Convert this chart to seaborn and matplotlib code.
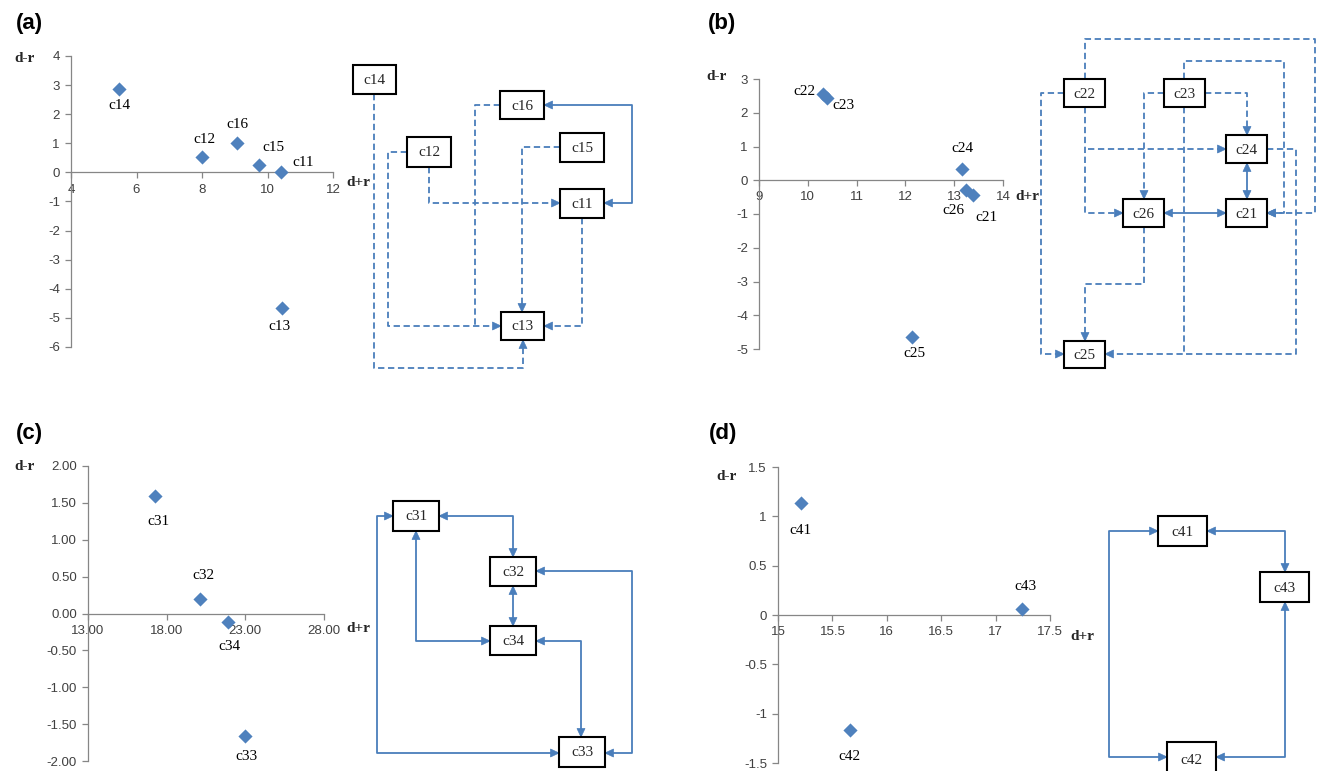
import matplotlib
matplotlib.use("Agg")
import matplotlib.pyplot as plt
import seaborn as sns
import pandas as pd
import numpy as np
from matplotlib.patches import Rectangle, Polygon
from matplotlib.ticker import FuncFormatter

# ---------------- data ----------------
a_names = ["c11", "c12", "c13", "c14", "c15", "c16"]
a_x = [10.40, 8.01, 10.43, 5.47, 9.74, 9.07]
a_y = [0.00, 0.53, -4.67, 2.87, 0.26, 1.00]

b_names = ["c21", "c22", "c23", "c24", "c25", "c26"]
b_x = [13.39, 10.31, 10.39, 13.16, 12.14, 13.25]
b_y = [-0.44, 2.56, 2.45, 0.33, -4.65, -0.28]

c_names = ["c31", "c32", "c33", "c34"]
c_x = [17.25, 20.09, 22.97, 21.91]
c_y = [1.60, 0.20, -1.66, -0.12]

d_names = ["c41", "c42", "c43"]
d_x = [15.21, 15.66, 17.24]
d_y = [1.14, -1.17, 0.06]

# ---------------- style ----------------
sns.set_theme(style="white")
plt.rcParams["font.family"] = ["Liberation Sans", "DejaVu Sans"]
plt.rcParams["axes.unicode_minus"] = False

BLUE = "#4F81BD"
LINE = "#4A7EBB"
SPINE = "#868686"
TICK = "#404040"
SERIF = ["Liberation Serif", "DejaVu Serif"]

W, H = 1325, 771
fig = plt.figure(figsize=(W / 100, H / 100), dpi=100)


def px_axes(x0, y0, x1, y1):
    return fig.add_axes([x0 / W, 1 - y1 / H, (x1 - x0) / W, (y1 - y0) / H])


panels = [
    dict(names=a_names, x=a_x, y=a_y, box=(71, 56, 333, 347), xlim=(4, 12), ylim=(-6, 4),
         xstep=2, ystep=1, fmt="%g",
         offs={"c14": (0, 17), "c12": (2, -17), "c16": (0, -19), "c15": (14, -17),
               "c11": (23, -10), "c13": (-2, 18)}),
    dict(names=b_names, x=b_x, y=b_y, box=(759, 79, 1003, 349), xlim=(9, 14), ylim=(-5, 3),
         xstep=1, ystep=1, fmt="%g",
         offs={"c22": (-18, -2), "c23": (17, 8), "c24": (0, -21), "c26": (-13, 21),
               "c21": (13, 22), "c25": (2, 16)}),
    dict(names=c_names, x=c_x, y=c_y, box=(88, 466, 324, 761), xlim=(13, 28), ylim=(-2, 2),
         xstep=5, ystep=0.5, fmt="%.2f",
         offs={"c31": (4, 26), "c32": (4, -23), "c34": (1, 24), "c33": (2, 21)}),
    dict(names=d_names, x=d_x, y=d_y, box=(778, 467, 1050, 763), xlim=(15, 17.5), ylim=(-1.5, 1.5),
         xstep=0.5, ystep=0.5, fmt="%g",
         offs={"c41": (0, 28), "c43": (4, -23), "c42": (0, 26)}),
]

for p in panels:
    ax = px_axes(*p["box"])
    df = pd.DataFrame({"name": p["names"], "x": p["x"], "y": p["y"]})
    sns.scatterplot(data=df, x="x", y="y", ax=ax, marker="D", s=52, color=BLUE,
                    linewidth=0, legend=False, zorder=3, clip_on=False)
    x0, x1 = p["xlim"]
    y0, y1 = p["ylim"]
    ax.set_xlim(x0, x1)
    ax.set_ylim(y0, y1)
    ax.set_xticks(np.arange(x0, x1 + 1e-9, p["xstep"]))
    ax.set_yticks(np.arange(y0, y1 + 1e-9, p["ystep"]))
    f = p["fmt"]
    ax.xaxis.set_major_formatter(FuncFormatter(lambda v, pos, f=f: f % v))
    ax.yaxis.set_major_formatter(FuncFormatter(lambda v, pos, f=f: f % v))
    ax.set_xlabel("")
    ax.set_ylabel("")
    ax.set_facecolor("none")
    for s in ("top", "right"):
        ax.spines[s].set_visible(False)
    ax.spines["bottom"].set_position(("data", 0))
    for s in ("left", "bottom"):
        ax.spines[s].set_color(SPINE)
        ax.spines[s].set_linewidth(0.9)
    ax.tick_params(axis="both", which="major", direction="out", length=4, width=0.9,
                   color=SPINE, labelsize=9.5, labelcolor=TICK, pad=4)
    ax.tick_params(axis="x", bottom=True)
    ax.tick_params(axis="y", left=True)
    for n, xv, yv in zip(p["names"], p["x"], p["y"]):
        dx, dy = p["offs"][n]
        ax.annotate(n, (xv, yv), xytext=(dx, -dy), textcoords="offset pixels",
                    ha="center", va="center", fontsize=11, family=SERIF, color="black")

# ---------------- overlay for diagrams and labels ----------------
ov = fig.add_axes([0, 0, 1, 1])
ov.set_xlim(0, W)
ov.set_ylim(H, 0)
ov.axis("off")
ov.patch.set_visible(False)


def head(tip, prev):
    tx, ty = tip
    px, py = prev
    dx, dy = tx - px, ty - py
    L = (dx * dx + dy * dy) ** 0.5
    ux, uy = dx / L, dy / L
    hl, hw = 8.5, 4.0
    bx, by = tx - ux * hl, ty - uy * hl
    pts = [(tx, ty), (bx - uy * hw, by + ux * hw), (bx + uy * hw, by - ux * hw)]
    ov.add_patch(Polygon(pts, closed=True, facecolor=LINE, edgecolor=LINE, lw=0.5, zorder=5))


def path(pts, dashed=True, start=False, end=True):
    xs = [q[0] for q in pts]
    ys = [q[1] for q in pts]
    ls = (0, (3.5, 2.0)) if dashed else "-"
    ov.plot(xs, ys, color=LINE, lw=1.3, linestyle=ls, zorder=4, solid_capstyle="butt",
            dash_capstyle="butt")
    if end:
        head(pts[-1], pts[-2])
    if start:
        head(pts[0], pts[1])


def box(name, x0, y0, x1, y1):
    ov.add_patch(Rectangle((x0, y0), x1 - x0, y1 - y0, facecolor="white", edgecolor="black",
                           lw=1.5, zorder=6))
    ov.text((x0 + x1) / 2, (y0 + y1) / 2 + 1, name, ha="center", va="center",
            fontsize=11, family=SERIF, zorder=7)


# panel (a)
for n, b in {"c14": (353, 65, 396, 94), "c16": (500, 91, 544, 119), "c12": (407, 137, 451, 167),
             "c15": (560, 133, 604, 162), "c11": (560, 189, 604, 218),
             "c13": (501, 312, 544, 340)}.items():
    box(n, *b)
path([(374, 94), (374, 368), (523, 368), (523, 340)])
path([(407, 152), (388, 152), (388, 326), (501, 326)])
path([(500, 105), (475, 105), (475, 326)], end=False)
path([(429, 167), (429, 203), (560, 203)])
path([(560, 147), (522, 147), (522, 312)])
path([(582, 218), (582, 326), (544, 326)])
path([(544, 105), (632, 105), (632, 203), (604, 203)], dashed=False, start=True)

# panel (b)
for n, b in {"c22": (1064, 79, 1105, 107), "c23": (1164, 79, 1205, 107),
             "c24": (1226, 135, 1267, 163), "c26": (1123, 199, 1164, 227),
             "c21": (1226, 199, 1267, 227), "c25": (1064, 341, 1105, 368)}.items():
    box(n, *b)
path([(1085, 79), (1085, 39), (1315, 39), (1315, 213), (1267, 213)])
path([(1184, 79), (1184, 61), (1284, 61), (1284, 213), (1267, 213)])
path([(1064, 93), (1041, 93), (1041, 354), (1064, 354)])
path([(1164, 93), (1144, 93), (1144, 199)])
path([(1205, 93), (1247, 93), (1247, 135)])
path([(1085, 107), (1085, 213), (1123, 213)])
path([(1088, 149), (1226, 149)])
path([(1184, 107), (1184, 354), (1105, 354)])
path([(1267, 149), (1296, 149), (1296, 354), (1184, 354)], end=False)
path([(1144, 227), (1144, 284), (1085, 284), (1085, 341)])
path([(1247, 163), (1247, 199)], dashed=False, start=True)
path([(1164, 213), (1226, 213)], dashed=False, start=True)

# panel (c)
for n, b in {"c31": (393, 501, 439, 531), "c32": (490, 557, 536, 586),
             "c34": (490, 626, 536, 655), "c33": (559, 737, 605, 767)}.items():
    box(n, *b)
path([(439, 516), (513, 516), (513, 557)], dashed=False, start=True)
path([(513, 586), (513, 626)], dashed=False, start=True)
path([(416, 531), (416, 641), (490, 641)], dashed=False, start=True)
path([(536, 641), (581, 641), (581, 737)], dashed=False, start=True)
path([(605, 753), (632, 753), (632, 571), (536, 571)], dashed=False, start=True)
path([(393, 516), (377, 516), (377, 753), (559, 753)], dashed=False, start=True)

# panel (d)
for n, b in {"c41": (1158, 516, 1207, 546), "c43": (1260, 572, 1309, 602),
             "c42": (1167, 742, 1216, 778)}.items():
    box(n, *b)
path([(1207, 531), (1285, 531), (1285, 572)], dashed=False, start=True)
path([(1158, 531), (1109, 531), (1109, 757), (1167, 757)], dashed=False, start=True)
path([(1216, 757), (1285, 757), (1285, 602)], dashed=False, start=True)

# panel letters and axis names
for t, (x, y) in {"(a)": (16, 24), "(b)": (708, 24), "(c)": (16, 433), "(d)": (709, 433)}.items():
    ov.text(x, y, t, ha="left", va="center", fontsize=16, fontweight="bold", color="black")
for (x, y) in [(25, 59), (717, 77), (25, 466), (727, 476)]:
    ov.text(x, y, "d-r", ha="center", va="center", fontsize=11, fontweight="bold", family=SERIF)
for (x, y) in [(358, 182), (1027, 197), (358, 629), (1082, 636)]:
    ov.text(x, y, "d+r", ha="center", va="center", fontsize=11, fontweight="bold", family=SERIF)

fig.savefig("out.png", dpi=100)
